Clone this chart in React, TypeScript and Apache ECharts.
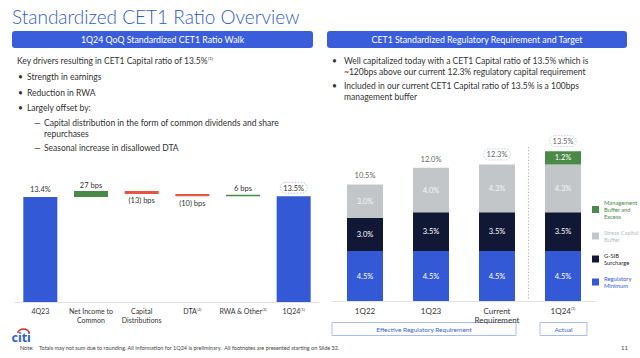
import React, { useEffect, useRef } from 'react';
import * as echarts from 'echarts';

// ---------- Data ----------
const walkCats = ['4Q23', 'Net Income to\nCommon', 'Capital\nDistributions', 'DTA', 'RWA & Other', '1Q24'];
const walkSup = ['', '', '', '(2)', '(3)', '(1)'];
const walkStart = 13.4;
const walkEnd = 13.5;
const walkBps = [27, -13, -10, 6];

const reqCats = ['1Q22', '1Q23', 'Current\nRequirement', '1Q24'];
const reqSup = ['', '', '', '(1)'];
const regMinimum = [4.5, 4.5, 4.5, 4.5];
const gsibSurcharge = [3.0, 3.5, 3.5, 3.5];
const stressBuffer = [3.0, 4.0, 4.3, 4.3];
const mgmtBuffer: (number | string)[] = ['-', '-', '-', 1.2];
const highlighted = [false, false, true, true];

const seriesNames = ['Regulatory\nMinimum', 'G-SIB\nSurcharge', 'Stress Capital\nBuffer', 'Management\nBuffer and\nExcess'];

// ---------- Styles ----------
const FONT = 'Lato';
const BLUE = '#3359d6';
const NAVY = '#111836';
const GRAY = '#c2c6c9';
const GREEN = '#4a8a47';
const RED = '#e8553f';
const TEXT = '#333333';
const HL = '#a9c4f0';

function txt(x: number, y: number, text: string, size: number, color = TEXT, extra: any = {}) {
  return {
    type: 'text',
    x,
    y,
    silent: true,
    style: {
      text,
      fontSize: size,
      fontFamily: FONT,
      fill: color,
      textVerticalAlign: 'middle',
      verticalAlign: 'middle',
      ...extra,
    },
  };
}

export default function App() {
  const ref = useRef<HTMLDivElement>(null);

  useEffect(() => {
    if (!ref.current) return;
    const chart = echarts.init(ref.current, undefined, { renderer: 'svg' });

    // waterfall
    let level = walkStart;
    const wBase: (number | string)[] = ['-'];
    const wDelta: any[] = ['-'];
    walkBps.forEach((b) => {
      const ch = b / 100;
      if (b >= 0) {
        wBase.push(+level.toFixed(2));
        wDelta.push({
          value: +ch.toFixed(2),
          itemStyle: { color: GREEN },
          label: { position: 'top', distance: 2, formatter: `${b} bps` },
        });
        level += ch;
      } else {
        level += ch;
        wBase.push(+level.toFixed(2));
        wDelta.push({
          value: +(-ch).toFixed(2),
          itemStyle: { color: RED },
          label: { position: 'bottom', distance: 3, formatter: `(${-b}) bps` },
        });
      }
    });
    wBase.push('-');
    wDelta.push('-');
    const wTotals: any[] = walkCats.map((_, i) => {
      if (i === 0) return { value: walkStart, label: { formatter: walkStart.toFixed(1) + '%' } };
      if (i === walkCats.length - 1)
        return {
          value: walkEnd,
          label: {
            formatter: walkEnd.toFixed(1) + '%',
            borderColor: HL,
            borderWidth: 1,
            borderType: [1.5, 1.5],
            borderRadius: 10,
            padding: [2, 3, 1, 3],
          },
        };
      return '-';
    });

    const totals = regMinimum.map((v, i) => {
      const m = typeof mgmtBuffer[i] === 'number' ? (mgmtBuffer[i] as number) : 0;
      return +(v + gsibSurcharge[i] + stressBuffer[i] + m).toFixed(1);
    });
    const totalsData = totals.map((v, i) =>
      highlighted[i]
        ? {
            value: v,
            label: {
              borderColor: HL,
              borderWidth: 1,
              borderType: [1.5, 1.5],
              borderRadius: 10,
              padding: [2, 3, 1, 3],
            },
          }
        : v
    );

    const supFmt = (sups: string[], cats: string[]) => (val: string) => {
      const s = sups[cats.indexOf(val)] || '';
      return s ? `{a|${val}}{s|${s}}` : `{a|${val}}`;
    };

    const inLabel = (color: string) => ({
      show: true,
      position: 'inside',
      color,
      fontSize: 7.5,
      fontFamily: FONT,
      formatter: (p: any) => (typeof p.value === 'number' ? p.value.toFixed(1) + '%' : ''),
    });

    const segColors = [BLUE, NAVY, GRAY, GREEN];
    const segData = [regMinimum, gsibSurcharge, stressBuffer, mgmtBuffer];

    const graphics: any[] = [
      txt(12, 16, 'Standardized CET1 Ratio Overview', 19, '#2f5ad5', { fontWeight: 300 }),
      // headers
      { type: 'rect', shape: { x: 12, y: 31, width: 301, height: 17, r: 3 }, style: { fill: '#3a5edb' }, silent: true },
      txt(162.5, 39.5, '1Q24 QoQ Standardized CET1 Ratio Walk', 8.8, '#ffffff', { textAlign: 'center', align: 'center' }),
      { type: 'rect', shape: { x: 327, y: 31, width: 300, height: 17, r: 3 }, style: { fill: '#3a5edb' }, silent: true },
      txt(477, 39.5, 'CET1 Standardized Regulatory Requirement and Target', 8.8, '#ffffff', { textAlign: 'center', align: 'center' }),
      // left text
      {
        type: 'text',
        x: 17,
        y: 61,
        silent: true,
        style: {
          text: '{a|Key drivers resulting in CET1 Capital ratio of 13.5%}{s|(1)}',
          fill: TEXT,
          textVerticalAlign: 'middle',
          verticalAlign: 'middle',
          rich: {
            a: { fontSize: 8.5, fontFamily: FONT, fill: TEXT, color: TEXT },
            s: { fontSize: 4.5, fontFamily: FONT, fill: TEXT, color: TEXT, verticalAlign: 'top', padding: [0, 0, 6, 0] },
          },
        },
      },
      txt(18, 76.5, '•', 8.5),
      txt(27, 76.5, 'Strength in earnings', 8.5),
      txt(18, 92.5, '•', 8.5),
      txt(27, 92.5, 'Reduction in RWA', 8.5),
      txt(18, 108, '•', 8.5),
      txt(27, 108, 'Largely offset by:', 8.5),
      txt(34, 122.7, '—', 8.5),
      txt(44, 122.7, 'Capital distribution in the form of common dividends and share', 8.5),
      txt(44, 133.5, 'repurchases', 8.5),
      txt(34, 148, '—', 8.5),
      txt(44, 148, 'Seasonal increase in disallowed DTA', 8.5),
      // right text
      txt(332, 61, '•', 8.5),
      txt(344, 61, 'Well capitalized today with a CET1 Capital ratio of 13.5% which is', 8.5),
      txt(344, 71.5, '~120bps above our current 12.3% regulatory capital requirement', 8.5),
      txt(332, 86, '•', 8.5),
      txt(344, 86, 'Included in our current CET1 Capital ratio of 13.5% is a 100bps', 8.5),
      txt(344, 97, 'management buffer', 8.5),
      // separator
      {
        type: 'line',
        shape: { x1: 528.5, y1: 147, x2: 528.5, y2: 300 },
        style: { stroke: '#9a9a9a', lineWidth: 0.8, lineDash: [1.2, 2] },
        silent: true,
      },
      // bottom boxes
      { type: 'rect', shape: { x: 332, y: 322.5, width: 184, height: 13 }, style: { fill: '#fff', stroke: '#a8bdf0', lineWidth: 1 }, silent: true },
      txt(424, 329.5, 'Effective Regulatory Requirement', 6.5, '#3d62d8', { textAlign: 'center', align: 'center' }),
      { type: 'rect', shape: { x: 540, y: 322.5, width: 47, height: 13 }, style: { fill: '#fff', stroke: '#a8bdf0', lineWidth: 1 }, silent: true },
      txt(563.5, 329.5, 'Actual', 6.5, '#3d62d8', { textAlign: 'center', align: 'center' }),
      // logo
      txt(11.5, 337, 'citi', 12.5, '#2c5ee0', { fontWeight: 'bold', fontFamily: 'Noto Sans' }),
      {
        type: 'arc',
        shape: { cx: 23.5, cy: 335.5, r: 6.5, startAngle: Math.PI * 1.12, endAngle: Math.PI * 1.88 },
        style: { stroke: '#e3242b', lineWidth: 1.3, fill: 'none' },
        silent: true,
      },
      // footnote
      txt(20, 347.5, 'Note:', 5.5, '#444'),
      txt(39, 347.5, 'Totals may not sum due to rounding. All information for 1Q24 is preliminary.  All footnotes are presented starting on Slide 32.', 5.5, '#444'),
      txt(621, 347, '11', 6, '#444'),
    ];

    chart.setOption({
      animation: false,
      textStyle: { fontFamily: FONT },
      graphic: graphics,
      legend: {
        orient: 'vertical',
        left: 592,
        top: 199,
        itemWidth: 7,
        itemHeight: 7,
        itemGap: 9,
        padding: 0,
        icon: 'rect',
        selectedMode: false,
        textStyle: { fontSize: 5.8, lineHeight: 7, fontFamily: FONT },
        data: [
          { name: seriesNames[3], textStyle: { color: GREEN } },
          { name: seriesNames[2], textStyle: { color: '#b8bcbf' } },
          { name: seriesNames[1], textStyle: { color: '#222' } },
          { name: seriesNames[0], textStyle: { color: BLUE } },
        ],
      },
      grid: [
        { left: 15, right: 321, top: 176.6, bottom: 56 },
        { left: 332, right: 44, top: 134.5, bottom: 57 },
      ],
      xAxis: [
        {
          type: 'category',
          gridIndex: 0,
          data: walkCats,
          axisLine: { lineStyle: { color: '#e2e2e2', width: 1 } },
          axisTick: { show: false },
          axisLabel: {
            interval: 0,
            margin: 5,
            color: TEXT,
            formatter: supFmt(walkSup, walkCats),
            rich: {
              a: { fontSize: 7, lineHeight: 8.5, color: TEXT, fontFamily: FONT },
              s: { fontSize: 4, color: TEXT, fontFamily: FONT, verticalAlign: 'top', padding: [0, 0, 4, 0] },
            },
          },
        },
        {
          type: 'category',
          gridIndex: 1,
          data: reqCats,
          axisLine: { lineStyle: { color: '#e2e2e2', width: 1 } },
          axisTick: { show: false },
          axisLabel: {
            interval: 0,
            margin: 5,
            color: TEXT,
            formatter: supFmt(reqSup, reqCats),
            rich: {
              a: { fontSize: 8, lineHeight: 9, color: TEXT, fontFamily: FONT },
              s: { fontSize: 4, color: TEXT, fontFamily: FONT, verticalAlign: 'top', padding: [0, 0, 4, 0] },
            },
          },
        },
      ],
      yAxis: [
        { type: 'value', gridIndex: 0, min: 0, max: 16, show: false, splitLine: { show: false } },
        { type: 'value', gridIndex: 0, min: 8.67, max: 14.32, show: false, splitLine: { show: false } },
        { type: 'value', gridIndex: 1, min: 0, max: 15, show: false, splitLine: { show: false } },
      ],
      series: [
        {
          type: 'bar',
          name: 'walkTotal',
          xAxisIndex: 0,
          yAxisIndex: 0,
          data: wTotals,
          barWidth: 34,
          barGap: '-100%',
          itemStyle: { color: BLUE },
          label: { show: true, position: 'top', distance: 3, color: TEXT, fontSize: 7.5, fontFamily: FONT },
        },
        {
          type: 'bar',
          name: 'walkBase',
          xAxisIndex: 0,
          yAxisIndex: 1,
          stack: 'w',
          data: wBase,
          barWidth: 34,
          barGap: '-100%',
          itemStyle: { color: 'rgba(0,0,0,0)' },
          silent: true,
        },
        {
          type: 'bar',
          name: 'walkDelta',
          xAxisIndex: 0,
          yAxisIndex: 1,
          stack: 'w',
          data: wDelta,
          barWidth: 34,
          barGap: '-100%',
          label: { show: true, color: TEXT, fontSize: 7.5, fontFamily: FONT },
        },
        ...segData.map((d, i) => ({
          type: 'bar',
          name: seriesNames[i],
          xAxisIndex: 1,
          yAxisIndex: 2,
          stack: 'req',
          data: d,
          barWidth: 36,
          itemStyle: { color: segColors[i] },
          label: inLabel(i === 2 ? '#f4f5f6' : '#ffffff'),
        })),
        {
          type: 'scatter',
          name: 'reqTotal',
          xAxisIndex: 1,
          yAxisIndex: 2,
          data: totalsData,
          symbolSize: 1,
          itemStyle: { color: 'rgba(0,0,0,0)' },
          label: {
            show: true,
            position: 'top',
            distance: 4,
            color: TEXT,
            fontSize: 7.5,
            fontFamily: FONT,
            formatter: (p: any) => p.value.toFixed(1) + '%',
          },
          silent: true,
        },
      ],
    });

    return () => chart.dispose();
  }, []);

  return <div ref={ref} style={{ position: 'fixed', left: 0, top: 0, width: 640, height: 358, background: '#fff' }} />;
}
